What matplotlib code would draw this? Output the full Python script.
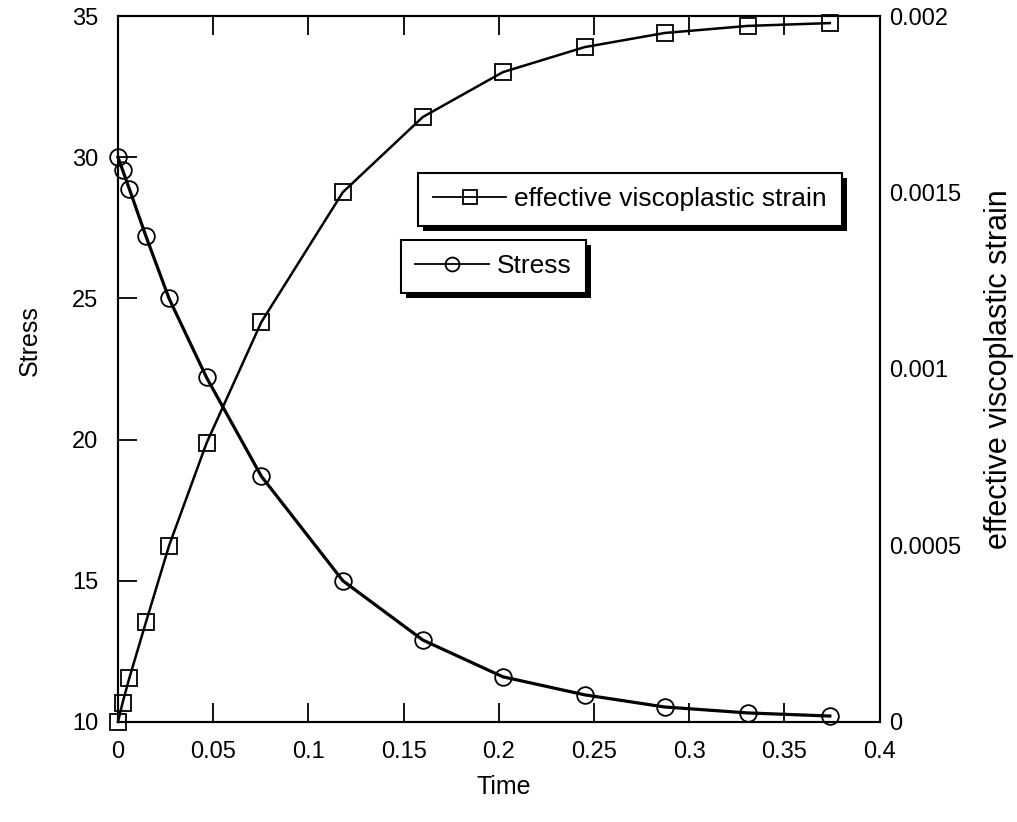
import matplotlib
matplotlib.use("Agg")
import matplotlib.pyplot as plt
from matplotlib.ticker import MultipleLocator
from matplotlib.patches import Rectangle

plt.rcParams['font.family'] = ['Liberation Sans', 'DejaVu Sans']

# data
time = [0, 0.0024, 0.006, 0.0147, 0.0268, 0.0465, 0.0753, 0.1181,
        0.1601, 0.2021, 0.2451, 0.2871, 0.3307, 0.3738]
stress = [30.0, 29.55, 28.87, 27.2, 25.0, 22.2, 18.7, 15.0,
          12.9, 11.6, 10.96, 10.53, 10.32, 10.21]
strain = [0.0, 0.000054, 0.000125, 0.000283, 0.000499, 0.00079, 0.001133,
          0.001501, 0.001714, 0.001841, 0.001912, 0.001952, 0.001972, 0.00198]

fig = plt.figure(figsize=(10.17, 8.22), dpi=100)
ax = fig.add_axes([0.116, 0.1217, 0.749, 0.8588])
ax2 = ax.twinx()

l_stress, = ax.plot(time, stress, color='black', lw=2.3, marker='o', ms=12,
                    mfc='none', mec='black', mew=1.3, label='Stress',
                    clip_on=False)
l_strain, = ax2.plot(time, strain, color='black', lw=1.8, marker='s', ms=11,
                     mfc='none', mec='black', mew=1.3,
                     label='effective viscoplastic strain', clip_on=False)

ax.set_xlim(0, 0.4)
ax.set_ylim(10, 35)
ax2.set_ylim(0, 0.002)
ax.xaxis.set_major_locator(MultipleLocator(0.05))
ax.yaxis.set_major_locator(MultipleLocator(5))
ax2.yaxis.set_major_locator(MultipleLocator(0.0005))
ax.xaxis.set_major_formatter(plt.FuncFormatter(lambda v, p: ('%g' % round(v, 3))))
ax2.yaxis.set_major_formatter(plt.FuncFormatter(lambda v, p: ('%g' % round(v, 5))))

ax.tick_params(axis='x', direction='in', length=14, width=1.3, top=True,
               labelsize=17, pad=14)
ax.tick_params(axis='y', direction='in', length=14, width=1.3,
               labelsize=17, pad=14)
ax2.tick_params(axis='y', direction='in', length=0, labelsize=17, pad=7)
for a in (ax, ax2):
    for s in a.spines.values():
        s.set_linewidth(1.5)

ax.set_xlabel('Time', fontsize=18)
ax.xaxis.set_label_coords(0.507, -0.075)
ax.set_ylabel('Stress', fontsize=18)
ax.yaxis.set_label_coords(-0.1, 0.54)
ax2.set_ylabel('effective viscoplastic strain', fontsize=22, labelpad=16)

leg_kw = dict(loc='upper left', borderaxespad=0, fancybox=False,
              framealpha=1, edgecolor='black', fontsize=19,
              handlelength=2.8, borderpad=0.55, handletextpad=0.3)
leg1 = ax2.legend(handles=[l_strain], bbox_to_anchor=(0.394, 0.778), **leg_kw)
ax2.add_artist(leg1)
leg2 = ax2.legend(handles=[l_stress], bbox_to_anchor=(0.371, 0.683), **leg_kw)
for lg in (leg1, leg2):
    lg.get_frame().set_linewidth(1.5)
    lg.set_zorder(6)
    for h in lg.legend_handles:
        h.set_markersize(10)
        h.set_linewidth(1.3)

# solid black drop shadow, offset a few pixels down and right
fig.canvas.draw()
for lg in (leg1, leg2):
    bb = lg.get_frame().get_window_extent()
    ax2.add_patch(Rectangle((bb.x0 + 5, bb.y0 - 5), bb.width, bb.height,
                            transform=None, facecolor='black',
                            edgecolor='none', zorder=5.5, clip_on=False))

fig.savefig('out.png', dpi=100)
